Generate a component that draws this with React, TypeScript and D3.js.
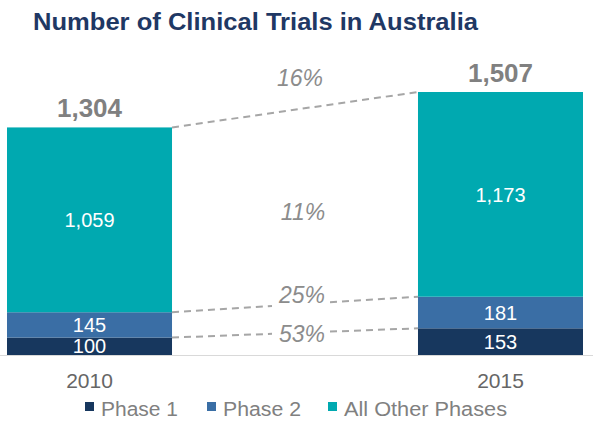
import React from "react";
import * as d3 from "d3";

const years = ["2010", "2015"];
const seriesNames = ["Phase 1", "Phase 2", "All Other Phases"];
const phase1 = [100, 153];
const phase2 = [145, 181];
const otherPhases = [1059, 1173];
const totals = [1304, 1507];
const growthLabels = ["53%", "25%", "11%", "16%"];
const colors = ["#17375e", "#3a6ea5", "#00a9b0"];

const W = 593;
const H = 421;

export default function App() {
  const x = d3.scaleBand<string>().domain(years).range([7, 583]).paddingInner(0.5985).paddingOuter(0);
  const y = d3.scaleLinear().domain([0, 1507]).range([355, 92]);
  const fmt = d3.format(",");

  const rows = years.map((yr, i) => ({ year: yr, p1: phase1[i], p2: phase2[i], other: otherPhases[i] }));
  const stack = d3.stack<any>().keys(["p1", "p2", "other"])(rows);

  const x0 = (x("2010") as number) + x.bandwidth();
  const x1 = x("2015") as number;
  const gapL = 272;
  const gapR = 330;
  const labelX = 302;

  const b1a = y(phase1[0]);
  const b1b = y(phase1[1]);
  const b2a = y(phase1[0] + phase2[0]);
  const b2b = y(phase1[1] + phase2[1]);
  const interp = (ya: number, yb: number, xx: number) => ya + ((yb - ya) * (xx - x0)) / (x1 - x0);

  const dashStyle = { stroke: "#a6a6a6", strokeWidth: 2, strokeDasharray: "7,5", fill: "none" };

  const legendItems = [
    { sx: 85, tx: 101, len: 77 },
    { sx: 207, tx: 223, len: 78 },
    { sx: 328, tx: 344, len: 163 },
  ];

  return (
    <svg width={W} height={H} style={{ position: "absolute", left: 0, top: 0, fontFamily: "Arial, 'Liberation Sans', sans-serif" }}>
      <rect width={W} height={H} fill="#ffffff" />
      <text x={33} y={30} fontSize={24} fontWeight="bold" fill="#1f3864" textLength={445} lengthAdjust="spacingAndGlyphs">
        Number of Clinical Trials in Australia
      </text>

      {stack.map((layer, li) =>
        layer.map((d, i) => (
          <rect
            key={`${li}-${i}`}
            x={x(years[i])}
            y={y(d[1])}
            width={x.bandwidth()}
            height={y(d[0]) - y(d[1])}
            fill={colors[li]}
          />
        ))
      )}

      {stack.map((layer, li) =>
        layer.map((d, i) => (
          <text
            key={`t${li}-${i}`}
            x={(x(years[i]) as number) + x.bandwidth() / 2}
            y={(y(d[0]) + y(d[1])) / 2}
            dy="0.36em"
            textAnchor="middle"
            fontSize={20}
            fill="#ffffff"
          >
            {fmt(d[1] - d[0])}
          </text>
        ))
      )}

      <line x1={0} x2={W} y1={355.5} y2={355.5} stroke="#d9d9d9" strokeWidth={1} />

      <line x1={x0} y1={y(totals[0])} x2={x1} y2={y(totals[1])} style={dashStyle} />
      <line x1={x0} y1={b2a} x2={gapL} y2={interp(b2a, b2b, gapL)} style={dashStyle} />
      <line x1={gapR} y1={interp(b2a, b2b, gapR)} x2={x1} y2={b2b} style={dashStyle} />
      <line x1={x0} y1={b1a} x2={gapL} y2={interp(b1a, b1b, gapL)} style={dashStyle} />
      <line x1={gapR} y1={interp(b1a, b1b, gapR)} x2={x1} y2={b1b} style={dashStyle} />

      <g fontSize={23} fontStyle="italic" fill="#8c8c8c" textAnchor="middle">
        <text x={labelX} y={342}>{growthLabels[0]}</text>
        <text x={labelX} y={303}>{growthLabels[1]}</text>
        <text x={labelX + 1} y={220}>{growthLabels[2]}</text>
        <text x={300} y={86}>{growthLabels[3]}</text>
      </g>

      {totals.map((t, i) => (
        <text
          key={`tot${i}`}
          x={(x(years[i]) as number) + x.bandwidth() / 2}
          y={y(t) - 10}
          textAnchor="middle"
          fontSize={26}
          fontWeight="bold"
          fill="#808080"
        >
          {fmt(t)}
        </text>
      ))}

      {years.map((yr) => (
        <text key={yr} x={(x(yr) as number) + x.bandwidth() / 2} y={388} textAnchor="middle" fontSize={21} fill="#666666">
          {yr}
        </text>
      ))}

      {seriesNames.map((s, i) => (
        <g key={s}>
          <rect x={legendItems[i].sx} y={402} width={9} height={9} fill={colors[i]} />
          <text x={legendItems[i].tx} y={416} fontSize={20} fill="#808080" textLength={legendItems[i].len} lengthAdjust="spacingAndGlyphs">
            {s}
          </text>
        </g>
      ))}
    </svg>
  );
}
